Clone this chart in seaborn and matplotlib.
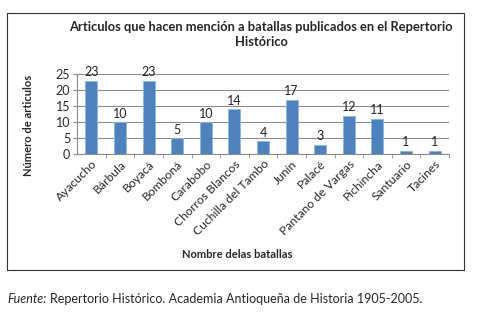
import matplotlib
matplotlib.use("Agg")
import matplotlib.pyplot as plt
import seaborn as sns
import pandas as pd
from matplotlib.lines import Line2D

batallas = ["Ayacucho", "Bárbula", "Boyacá", "Bomboná", "Carabobo",
            "Chorros Blancos", "Cuchilla del Tambo", "Junín", "Palacé",
            "Pantano de Vargas", "Pichincha", "Santuario", "Tacines"]
articulos = [23, 10, 23, 5, 10, 14, 4, 17, 3, 12, 11, 1, 1]
yticks = [0, 5, 10, 15, 20, 25]

df = pd.DataFrame({"batalla": batallas, "articulos": articulos})

sns.set_style("white")
plt.rcParams["font.family"] = ["Lato", "DejaVu Sans"]

fig = plt.figure(figsize=(4.88, 3.28), dpi=100)
ax = fig.add_axes([0.158, 0.530, 0.762, 0.244])

sns.barplot(data=df, x="batalla", y="articulos", color="#4F81BD",
            width=0.42, edgecolor="#8EB4E3", linewidth=0.6, saturation=1, ax=ax)

for i, v in enumerate(articulos):
    ax.text(i, v + 0.8, str(v), ha="center", va="bottom", fontsize=9, color="#222222")

ax.set_ylim(0, 25)
ax.set_yticks(yticks)
ax.set_xlim(-0.5, len(batallas) - 0.5)
ax.yaxis.grid(True, color="#8c8c8c", linewidth=0.8)
ax.set_axisbelow(True)
for s in ["top", "right"]:
    ax.spines[s].set_visible(False)
ax.spines["left"].set_color("#8c8c8c")
ax.spines["bottom"].set_color("#8c8c8c")
ax.tick_params(axis="y", length=3, color="#8c8c8c", labelsize=9, pad=2, left=True)
ax.set_xticks([i + 0.5 for i in range(len(batallas))], minor=True)
ax.tick_params(axis="x", which="major", length=0, labelsize=8.7, pad=3)
ax.tick_params(axis="x", which="minor", length=3, color="#8c8c8c", bottom=True)
ax.set_xticks(range(len(batallas)))
ax.set_xticklabels(batallas, rotation=45, ha="right", rotation_mode="anchor")

ax.set_xlabel("Nombre delas batallas", fontsize=8, fontweight="bold")
ax.set_ylabel("Número de articulos", fontsize=8, fontweight="bold")
ax.xaxis.set_label_coords(0.43, -1.18)
ax.yaxis.set_label_coords(-0.115, 0.36)

fig.text(0.535, 0.895, "Articulos que hacen mención a batallas publicados en el Repertorio\nHistórico",
         ha="center", va="center", fontsize=9.3, fontweight="bold", linespacing=1.25)

# marco del gráfico
frame_x = [7 / 488, 464 / 488, 464 / 488, 7 / 488, 7 / 488]
frame_y = [1 - 13 / 328, 1 - 13 / 328, 1 - 270 / 328, 1 - 270 / 328, 1 - 13 / 328]
fig.add_artist(Line2D(frame_x, frame_y, color="#333333", linewidth=0.8))

fig.text(7 / 488, 1 - 299 / 328, "Fuente:", fontsize=9, style="italic", va="center")
fig.text(50 / 488, 1 - 299 / 328, "Repertorio Histórico. Academia Antioqueña de Historia 1905-2005.",
         fontsize=9, va="center")

fig.savefig("out.png", dpi=100)
